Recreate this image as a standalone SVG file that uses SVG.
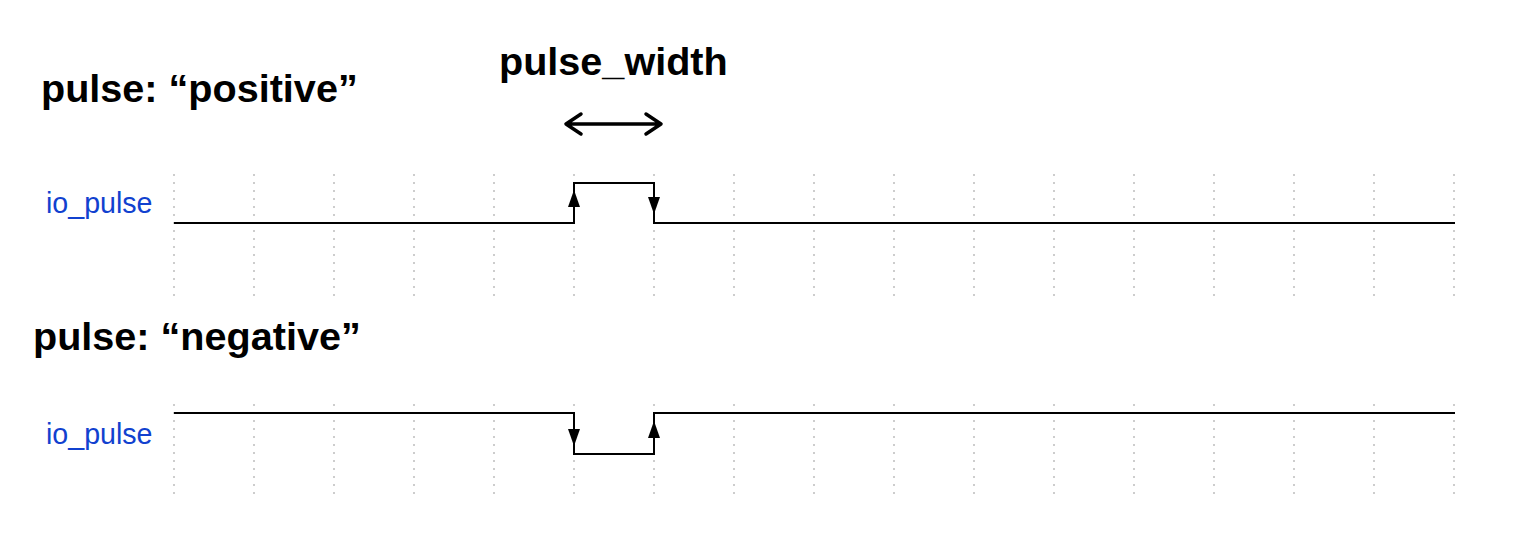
<svg xmlns="http://www.w3.org/2000/svg" width="1536" height="558" viewBox="0 0 1536 558">
  <style>
    .title { font-family: "Liberation Sans", Arial, sans-serif; font-weight: bold; font-size: 39.6px; fill: #000; }
    .sig { font-family: "Liberation Sans", Arial, sans-serif; font-size: 28.6px; fill: #1141cf; }
    .grid { stroke: #bdbdbd; stroke-width: 1.5; stroke-dasharray: 2 6; fill: none; }
    .wave { stroke: #000; stroke-width: 2; fill: none; }
    .head { fill: #000; stroke: none; }
    .dim { stroke: #000; stroke-width: 3.5; fill: none; stroke-linecap: round; stroke-linejoin: round; }
  </style>
  <defs>
    <g id="gridcol-top">
      <line class="grid" x1="0" y1="174" x2="0" y2="296"/>
    </g>
    <g id="gridcol-bot">
      <line class="grid" x1="0" y1="404" x2="0" y2="496"/>
    </g>
  </defs>

  <g id="label-positive">
    <text class="title" x="41" y="102">pulse: “positive”</text>
  </g>
  <g id="label-pulse-width">
    <text class="title" x="499" y="75">pulse_width</text>
  </g>
  <g id="label-negative">
    <text class="title" x="33" y="350">pulse: “negative”</text>
  </g>
  <g id="sig-top">
    <text class="sig" x="46" y="213">io_pulse</text>
  </g>
  <g id="sig-bottom">
    <text class="sig" x="46" y="444">io_pulse</text>
  </g>

  <g id="grid-top">
    <use href="#gridcol-top" x="174"/>
    <use href="#gridcol-top" x="254"/>
    <use href="#gridcol-top" x="334"/>
    <use href="#gridcol-top" x="414"/>
    <use href="#gridcol-top" x="494"/>
    <use href="#gridcol-top" x="574"/>
    <use href="#gridcol-top" x="654"/>
    <use href="#gridcol-top" x="734"/>
    <use href="#gridcol-top" x="814"/>
    <use href="#gridcol-top" x="894"/>
    <use href="#gridcol-top" x="974"/>
    <use href="#gridcol-top" x="1054"/>
    <use href="#gridcol-top" x="1134"/>
    <use href="#gridcol-top" x="1214"/>
    <use href="#gridcol-top" x="1294"/>
    <use href="#gridcol-top" x="1374"/>
    <use href="#gridcol-top" x="1454"/>
  </g>
  <g id="grid-bottom">
    <use href="#gridcol-bot" x="174"/>
    <use href="#gridcol-bot" x="254"/>
    <use href="#gridcol-bot" x="334"/>
    <use href="#gridcol-bot" x="414"/>
    <use href="#gridcol-bot" x="494"/>
    <use href="#gridcol-bot" x="574"/>
    <use href="#gridcol-bot" x="654"/>
    <use href="#gridcol-bot" x="734"/>
    <use href="#gridcol-bot" x="814"/>
    <use href="#gridcol-bot" x="894"/>
    <use href="#gridcol-bot" x="974"/>
    <use href="#gridcol-bot" x="1054"/>
    <use href="#gridcol-bot" x="1134"/>
    <use href="#gridcol-bot" x="1214"/>
    <use href="#gridcol-bot" x="1294"/>
    <use href="#gridcol-bot" x="1374"/>
    <use href="#gridcol-bot" x="1454"/>
  </g>

  <g id="connectors">
    <path class="wave" d="M174,223 H574 V183 H654 V223 H1455"/>
    <polygon class="head" points="574,190 568,207 580,207"/>
    <polygon class="head" points="654,214 648,197 660,197"/>

    <path class="wave" d="M174,413 H574 V454 H654 V413 H1455"/>
    <polygon class="head" points="574,446 568,429 580,429"/>
    <polygon class="head" points="654,421 648,438 660,438"/>

    <path class="dim" d="M566,124 H661 M581,114 L566,124 L581,134 M646,114 L661,124 L646,134"/>
  </g>
</svg>
